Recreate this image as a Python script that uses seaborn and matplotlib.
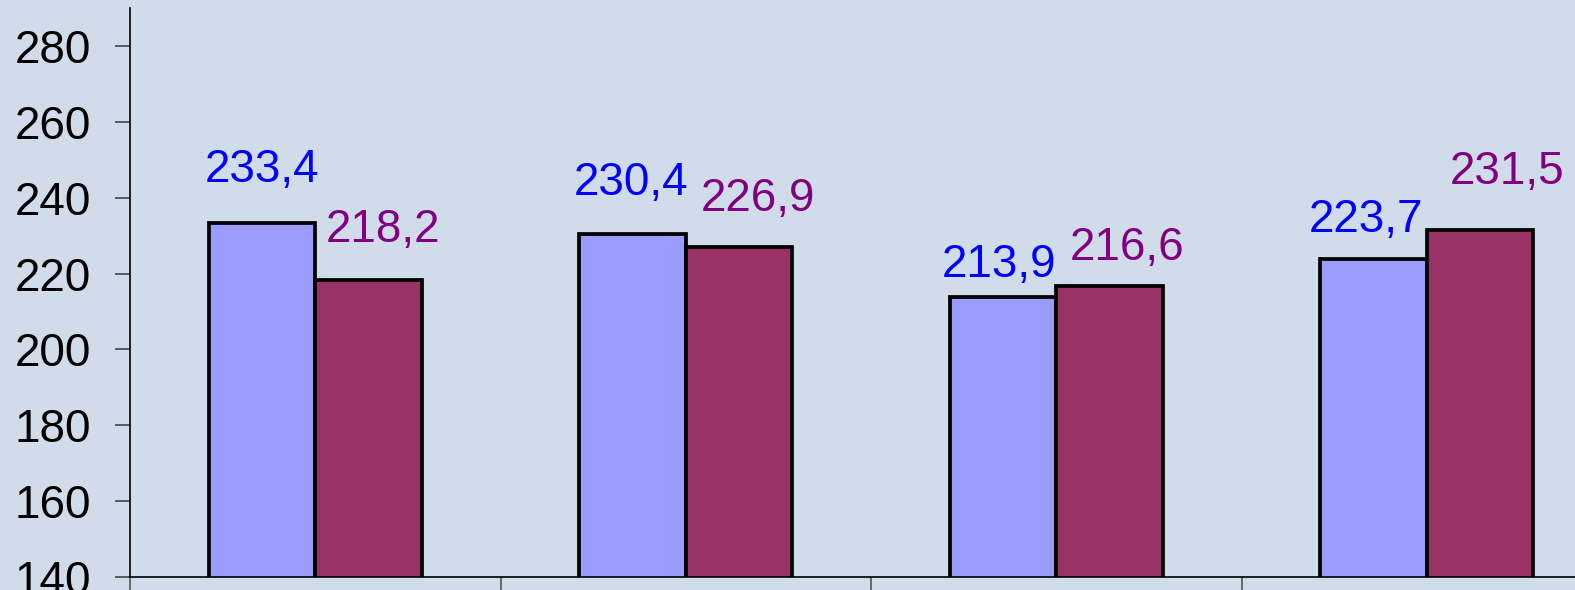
import matplotlib
matplotlib.use("Agg")
import matplotlib.pyplot as plt
import seaborn as sns
import pandas as pd
import numpy as np

categories = ["A", "B", "C", "D"]
series_names = ["Series 1", "Series 2"]
series1 = [233.4, 230.4, 213.9, 223.7]
series2 = [218.2, 226.9, 216.6, 231.5]
y_ticks = [140, 160, 180, 200, 220, 240, 260, 280]

bg = "#D0DCEA"
bar_colors = ["#9C9CFF", "#993366"]
label_colors = ["#0000FF", "#800080"]

# label offsets (pixels) relative to bar top centre
label_dx = [[0, -1, -4, -7], [14, 19, 17, 27]]
label_dy = [[53, 51, 32, 39], [50, 48, 38, 58]]

df = pd.DataFrame({
    "cat": categories * 2,
    "series": [series_names[0]] * 4 + [series_names[1]] * 4,
    "value": series1 + series2,
})

sns.set_style("white")
plt.rcParams["font.family"] = ["Liberation Sans", "DejaVu Sans"]

fig = plt.figure(figsize=(15.75, 5.90), dpi=100)
fig.patch.set_facecolor(bg)
ax = fig.add_axes([130 / 1575, 13 / 590, 1482 / 1575, 569 / 590])
ax.set_facecolor(bg)

sns.barplot(data=df, x="cat", y="value", hue="series", order=categories,
            hue_order=series_names, palette=bar_colors, width=0.576,
            edgecolor="black", linewidth=2.7, legend=False, ax=ax, saturation=1)

ax.set_ylim(140, 290)
ax.set_xlim(-0.5, len(categories) - 0.5)
ax.set_yticks(y_ticks)
ax.set_yticklabels([str(t) for t in y_ticks], fontsize=33)
ax.tick_params(axis="y", left=True, length=11, width=1.2, color="#444444",
               pad=17, labelcolor="black", direction="out")
ax.set_xticks(np.arange(len(categories) + 1) - 0.5)
ax.set_xticklabels([])
ax.tick_params(axis="x", bottom=True, length=14, width=1.2, color="#555555",
               direction="out")
ax.set_xlabel("")
ax.set_ylabel("")
for s in ["top", "right"]:
    ax.spines[s].set_visible(False)
for s in ["left", "bottom"]:
    ax.spines[s].set_color("black")
    ax.spines[s].set_linewidth(1.2)

# value labels
for i, (cont, vals) in enumerate(zip(ax.containers, [series1, series2])):
    for j, (bar, v) in enumerate(zip(cont, vals)):
        xc = bar.get_x() + bar.get_width() / 2
        ax.annotate(f"{v:.1f}".replace(".", ","), (xc, bar.get_height()),
                    xytext=(label_dx[i][j] * 0.72, label_dy[i][j] * 0.72),
                    textcoords="offset points",
                    ha="center", va="center", fontsize=33,
                    color=label_colors[i], annotation_clip=False)

fig.savefig("out.png", dpi=100, facecolor=bg)
